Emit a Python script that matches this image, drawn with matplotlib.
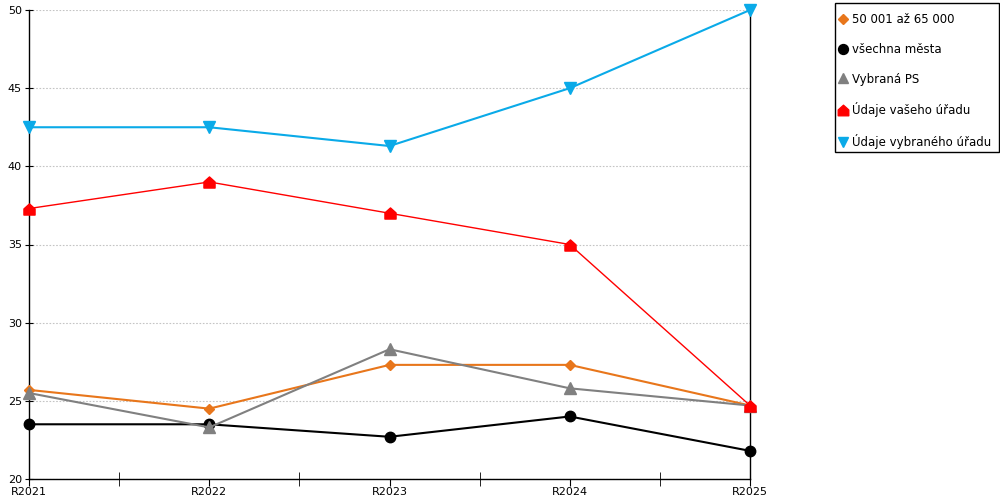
import matplotlib
matplotlib.use("Agg")
import matplotlib.pyplot as plt
from matplotlib.lines import Line2D
from matplotlib.patches import Rectangle
from matplotlib.path import Path
from matplotlib.ticker import MultipleLocator

roky = ['R2021', 'R2022', 'R2023', 'R2024', 'R2025']

velikost_50_65 = [25.7, 24.5, 27.3, 27.3, 24.7]
vsechna_mesta = [23.5, 23.5, 22.7, 24.0, 21.8]
vybrana_ps = [25.5, 23.3, 28.3, 25.8, 24.7]
vas_urad = [37.3, 39.0, 37.0, 35.0, 24.7]
vybrany_urad = [42.5, 42.5, 41.3, 45.0, 50.0]

# marker ve tvaru domecku
domek = Path([(-1, -1), (1, -1), (1, 0.1), (0, 1), (-1, 0.1), (-1, -1)],
             [Path.MOVETO] + [Path.LINETO] * 4 + [Path.CLOSEPOLY])

serie = [
    ('50 001 až 65 000', velikost_50_65, '#E8761B', 'D', 5.5, 1.5),
    ('všechna města', vsechna_mesta, '#000000', 'o', 7.5, 1.5),
    ('Vybraná PS', vybrana_ps, '#808080', '^', 8, 1.5),
    ('Údaje vašeho úřadu', vas_urad, '#FF0000', domek, 8, 1.0),
    ('Údaje vybraného úřadu', vybrany_urad, '#0AAAE8', 'v', 8, 1.5),
]

fig = plt.figure(figsize=(10, 5), dpi=100)
ax = fig.add_axes([0.029, 0.042, 0.721, 0.938])

x = list(range(len(roky)))
handles = []
for nazev, hodnoty, barva, marker, ms, lw in serie:
    ax.plot(x, hodnoty, color=barva, marker=marker, markersize=ms, linewidth=lw,
            clip_on=False, zorder=3)
    handles.append(Line2D([], [], color=barva, marker=marker, markersize=ms * 0.95,
                          linestyle='none', label=nazev))

ax.set_xlim(0, 4)
ax.set_ylim(20, 50)
ax.yaxis.set_major_locator(MultipleLocator(5))
ax.set_xticks(x)
ax.set_xticklabels(roky)
ax.set_xticks([0.5, 1.5, 2.5, 3.5], minor=True)
ax.tick_params(axis='x', which='major', direction='out', length=5, labelsize=8, pad=1)
ax.tick_params(axis='x', which='minor', direction='inout', length=10)
ax.tick_params(axis='y', direction='inout', length=6, labelsize=8, pad=2)
ax.grid(axis='y', linestyle=(0, (1.5, 1.5)), color='#C4C4C4', linewidth=0.8)
ax.spines['top'].set_visible(False)
for s in ['left', 'bottom', 'right']:
    ax.spines[s].set_linewidth(1.0)

# ramecek legendy zvlast, aby sedel presne
fig.patches.append(Rectangle((0.8345, 0.697), 0.164, 0.298, transform=fig.transFigure,
                             fill=False, edgecolor='black', linewidth=1.0))
fig.legend(handles=handles, loc='upper left', bbox_to_anchor=(0.838, 0.974),
           fontsize=8.5, frameon=False, handlelength=0.8, handletextpad=0.4,
           labelspacing=1.42, borderpad=0, borderaxespad=0)

fig.savefig('out.png', dpi=100)
